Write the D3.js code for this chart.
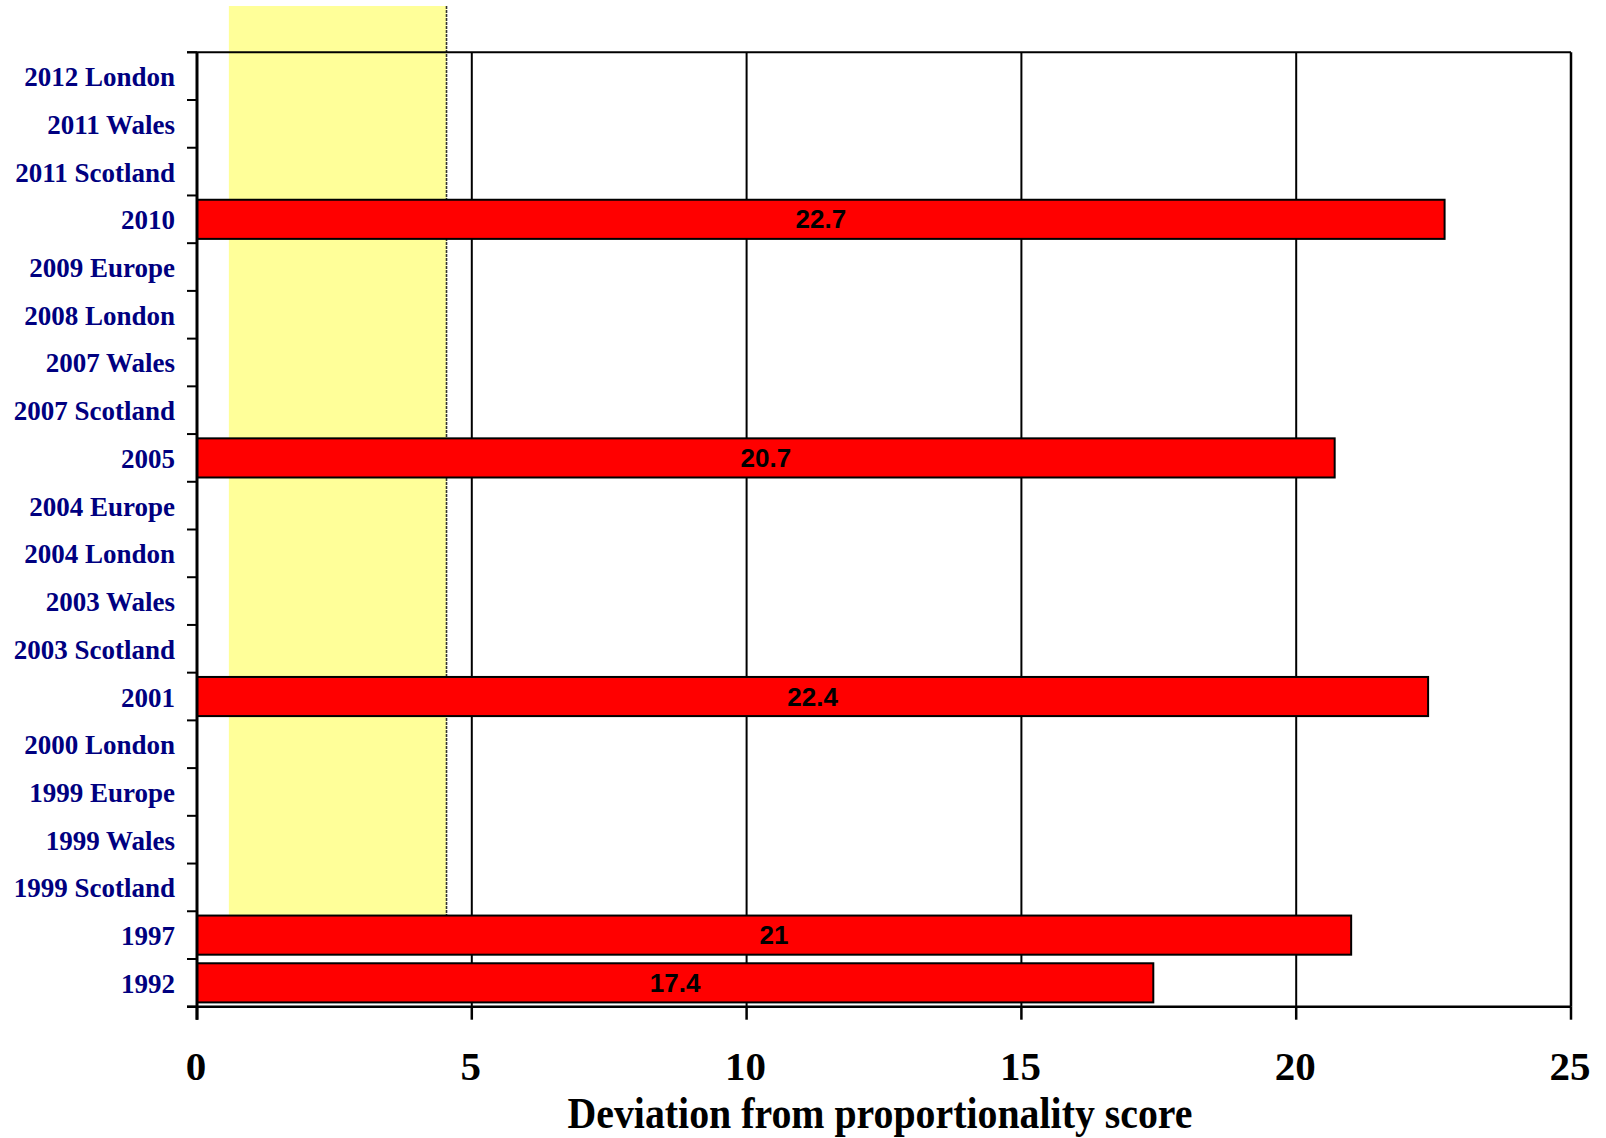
<!DOCTYPE html>
<html>
<head>
<meta charset="utf-8">
<script src="https://cdn.jsdelivr.net/npm/d3@7"></script>
<style>
  html, body { margin: 0; padding: 0; background: #fff; }
  svg { display: block; }
</style>
</head>
<body>
<svg id="chart" width="1606" height="1138"></svg>
<script>
// ---- Data ----
const categories = [
  "2012 London", "2011 Wales", "2011 Scotland", "2010", "2009 Europe",
  "2008 London", "2007 Wales", "2007 Scotland", "2005", "2004 Europe",
  "2004 London", "2003 Wales", "2003 Scotland", "2001", "2000 London",
  "1999 Europe", "1999 Wales", "1999 Scotland", "1997", "1992"
];
const values = [
  null, null, null, 22.7, null,
  null, null, null, 20.7, null,
  null, null, null, 22.4, null,
  null, null, null, 21, 17.4
];
const xTicks = [0, 5, 10, 15, 20, 25];
const highlightRange = [0.58, 4.54];   // shaded band on the x axis
const highlightUntil = "1997";          // band stops at this bar
const xTitle = "Deviation from proportionality score";

// ---- Layout ----
const svg = d3.select("#chart");
const pLeft = 197, pRight = 1571, pTop = 52.3, pBottom = 1006.7;

const x = d3.scaleLinear().domain([0, 25]).range([pLeft, pRight]);
const y = d3.scaleBand().domain(categories).range([pTop, pBottom])
  .paddingInner(0.18).paddingOuter(0.09);

// highlight band
svg.append("rect")
  .attr("x", x(highlightRange[0]))
  .attr("y", 6)
  .attr("width", x(highlightRange[1]) - x(highlightRange[0]))
  .attr("height", y(highlightUntil) - 6)
  .attr("fill", "#FFFF99");
svg.append("line")
  .attr("x1", x(highlightRange[1])).attr("x2", x(highlightRange[1]))
  .attr("y1", 6).attr("y2", y(highlightUntil))
  .attr("stroke", "#333").attr("stroke-width", 1.6)
  .attr("stroke-dasharray", "3,1");

// vertical gridlines
svg.append("g").selectAll("line")
  .data(xTicks.filter(d => d > 0 && d < 25))
  .join("line")
  .attr("x1", d => x(d)).attr("x2", d => x(d))
  .attr("y1", pTop).attr("y2", pBottom)
  .attr("stroke", "#000").attr("stroke-width", 2);

// frame: top and right
svg.append("line").attr("x1", pLeft - 10).attr("x2", pRight)
  .attr("y1", pTop).attr("y2", pTop).attr("stroke", "#000").attr("stroke-width", 2);
svg.append("line").attr("x1", pRight).attr("x2", pRight)
  .attr("y1", pTop).attr("y2", pBottom).attr("stroke", "#000").attr("stroke-width", 2.5);

// bars
const rows = categories.map((c, i) => ({ c, v: values[i] })).filter(d => d.v != null);
svg.append("g").selectAll("rect")
  .data(rows)
  .join("rect")
  .attr("x", x(0))
  .attr("y", d => y(d.c))
  .attr("width", d => x(d.v) - x(0))
  .attr("height", y.bandwidth())
  .attr("fill", "#FF0000")
  .attr("stroke", "#000")
  .attr("stroke-width", 2);

// value labels
svg.append("g").selectAll("text")
  .data(rows)
  .join("text")
  .attr("x", d => (x(0) + x(d.v)) / 2)
  .attr("y", d => y(d.c) + y.bandwidth() / 2 + 9)
  .attr("text-anchor", "middle")
  .attr("font-family", "'Liberation Sans', Arial, sans-serif")
  .attr("font-weight", "bold")
  .attr("font-size", 26)
  .attr("fill", "#000")
  .text(d => d.v);

// y axis line and tick marks at band boundaries
svg.append("line").attr("x1", pLeft).attr("x2", pLeft)
  .attr("y1", pTop).attr("y2", pBottom + 13)
  .attr("stroke", "#000").attr("stroke-width", 3);
const boundaries = categories.map(c => y(c) - y.step() * y.paddingInner() / 2);
boundaries.push(pBottom);
svg.append("g").selectAll("line")
  .data(boundaries)
  .join("line")
  .attr("x1", pLeft - 10).attr("x2", pLeft)
  .attr("y1", d => d).attr("y2", d => d)
  .attr("stroke", "#000").attr("stroke-width", 2);

// category labels
svg.append("g").selectAll("text")
  .data(categories)
  .join("text")
  .attr("x", 175)
  .attr("y", d => y(d) + y.bandwidth() / 2 + 10)
  .attr("text-anchor", "end")
  .attr("font-family", "'Liberation Serif', 'Times New Roman', serif")
  .attr("font-weight", "bold")
  .attr("font-size", 27)
  .attr("fill", "#000080")
  .text(d => d);

// x axis
svg.append("line").attr("x1", pLeft - 10).attr("x2", pRight)
  .attr("y1", pBottom).attr("y2", pBottom)
  .attr("stroke", "#000").attr("stroke-width", 2.5);
svg.append("g").selectAll("line")
  .data(xTicks)
  .join("line")
  .attr("x1", d => x(d)).attr("x2", d => x(d))
  .attr("y1", pBottom).attr("y2", pBottom + 13)
  .attr("stroke", "#000").attr("stroke-width", 2.5);
svg.append("g").selectAll("text")
  .data(xTicks)
  .join("text")
  .attr("x", d => x(d) - 1)
  .attr("y", 1080)
  .attr("text-anchor", "middle")
  .attr("font-family", "'Liberation Serif', 'Times New Roman', serif")
  .attr("font-weight", "bold")
  .attr("font-size", 41)
  .attr("fill", "#000")
  .text(d => d);

// x title
svg.append("text")
  .attr("x", 880)
  .attr("y", 1128)
  .attr("text-anchor", "middle")
  .attr("font-family", "'Liberation Serif', 'Times New Roman', serif")
  .attr("font-weight", "bold")
  .attr("font-size", 44)
  .attr("textLength", 625)
  .attr("lengthAdjust", "spacingAndGlyphs")
  .attr("fill", "#000")
  .text(xTitle);
</script>
</body>
</html>
